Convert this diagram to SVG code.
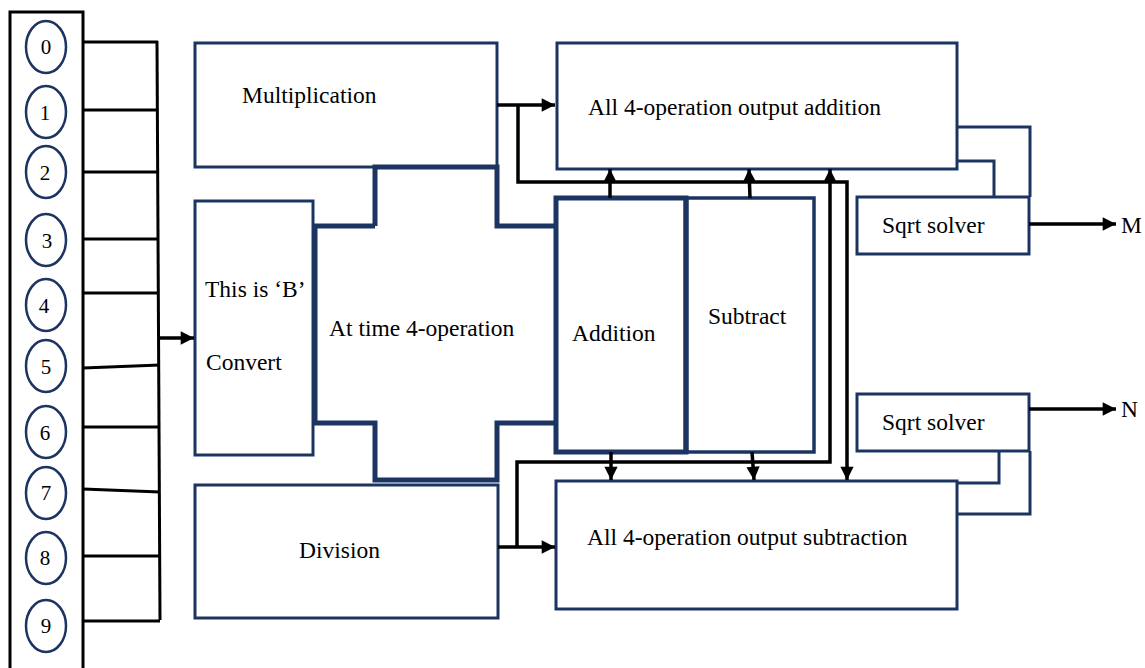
<svg xmlns="http://www.w3.org/2000/svg" width="1145" height="668" viewBox="0 0 1145 668">
<style>
text{font-family:'Liberation Serif','DejaVu Serif',serif;fill:#000;}
.lbl{font-size:23.5px;}
.dig{font-size:21px;text-anchor:middle;}
.box{fill:#fff;stroke:#1c3461;stroke-width:3;}
.thick{fill:none;stroke:#1c3461;stroke-width:5;}
.nv{fill:none;stroke:#1c3461;stroke-width:3;}
.ov{fill:#fff;stroke:#1c3461;stroke-width:2.5;}
.wire{fill:none;stroke:#000;stroke-width:3.5;}
.thin{fill:none;stroke:#000;stroke-width:3;}
</style>
<defs>
<marker id="ah" viewBox="0 0 10 10" refX="10" refY="5" markerWidth="4.2" markerHeight="3.8" orient="auto" markerUnits="strokeWidth">
<path d="M0,0 L10,5 L0,10 Z" fill="#000"/>
</marker>
</defs>
<rect width="1145" height="668" fill="#fff"/>

<g id="inputs">
<rect x="10" y="12" width="73" height="690" fill="#fff" stroke="#000" stroke-width="3"/>
<ellipse class="ov" cx="46" cy="47" rx="20" ry="26"/><text class="dig" x="46" y="54">0</text>
<ellipse class="ov" cx="46" cy="112" rx="20" ry="26"/><text class="dig" x="45" y="120">1</text>
<ellipse class="ov" cx="46" cy="172" rx="20" ry="26"/><text class="dig" x="45" y="180">2</text>
<ellipse class="ov" cx="46" cy="240" rx="20" ry="26"/><text class="dig" x="47" y="248">3</text>
<ellipse class="ov" cx="46" cy="305" rx="20" ry="26"/><text class="dig" x="44" y="313">4</text>
<ellipse class="ov" cx="46" cy="366" rx="20" ry="26"/><text class="dig" x="46" y="374">5</text>
<ellipse class="ov" cx="46" cy="432" rx="20" ry="26"/><text class="dig" x="45" y="440">6</text>
<ellipse class="ov" cx="46" cy="493" rx="20" ry="26"/><text class="dig" x="46" y="500">7</text>
<ellipse class="ov" cx="46" cy="558" rx="20" ry="26"/><text class="dig" x="45" y="565">8</text>
<ellipse class="ov" cx="46" cy="626" rx="20" ry="26"/><text class="dig" x="46" y="633">9</text>
</g>

<g id="bus">
<path class="thin" d="M83,42 L158,42 M83,110 L158,110 M83,172 L158,172 M83,239 L158,239 M83,293 L158,293 M83,368 L160,365 M83,427 L160,427 M83,489 L160,492 M83,556 L161,556 M83,621 L160,621"/>
<path class="thin" d="M157,41 L160,620"/>
</g>

<g id="multiplication">
<rect class="box" x="195" y="43" width="302" height="124"/>
<text class="lbl" x="242" y="103">Multiplication</text>
</g>

<g id="convert">
<rect class="box" x="195" y="201" width="118" height="254"/>
<text class="lbl" x="205" y="297">This is ‘B’</text>
<text class="lbl" x="206" y="370">Convert</text>
</g>

<g id="division">
<rect class="box" x="195" y="485" width="303" height="133"/>
<text class="lbl" x="299" y="558">Division</text>
</g>

<g id="at-time">
<path class="thick" d="M375,226 L375,167 L497,167 L497,226 L556,226 M556,423 L497,423 L497,480 L375,480 L375,423 L315,423 L315,226 L375,226"/>
<text class="lbl" x="329" y="336">At time 4-operation</text>
</g>

<g id="addition">
<rect class="thick" x="556" y="198" width="130" height="254"/>
<text class="lbl" x="572" y="341">Addition</text>
</g>

<g id="subtract">
<rect class="nv" x="686" y="198" width="128" height="254" style="stroke-width:3.5"/>
<line x1="686" y1="198" x2="686" y2="452" stroke="#1c3461" stroke-width="5"/>
<text class="lbl" x="708" y="324">Subtract</text>
</g>

<g id="output-addition">
<rect class="box" x="557" y="43" width="400" height="126"/>
<text class="lbl" x="588" y="115">All 4-operation output addition</text>
</g>

<g id="output-subtraction">
<rect class="box" x="556" y="481" width="401" height="128"/>
<text class="lbl" x="587" y="545">All 4-operation output subtraction</text>
</g>

<g id="sqrt-m">
<rect class="box" x="857" y="197" width="172" height="57"/>
<text class="lbl" x="882" y="233">Sqrt solver</text>
</g>

<g id="sqrt-n">
<rect class="box" x="857" y="394" width="172" height="57"/>
<text class="lbl" x="882" y="430">Sqrt solver</text>
</g>

<g id="out-m"><text class="lbl" x="1121" y="233">M</text></g>
<g id="out-n"><text class="lbl" x="1121" y="417">N</text></g>

<g id="connectors">
<path class="nv" d="M957,127 L1030,127 L1030,197 M957,161 L994,161 L994,197"/>
<path class="nv" d="M1030,451 L1030,514 L957,514 M999,451 L999,483 L957,483"/>
<path class="wire" d="M160,338 L194,338" marker-end="url(#ah)"/>
<path class="wire" d="M497,105 L555,105" marker-end="url(#ah)"/>
<path class="wire" d="M518,105 L518,182 L847,182 L847,480" marker-end="url(#ah)"/>
<path class="wire" d="M498,547 L555,547" marker-end="url(#ah)"/>
<path class="wire" d="M517,547 L517,462 L830,462 L830,169" marker-end="url(#ah)"/>
<path class="wire" d="M610,198 L610,169" marker-end="url(#ah)"/>
<path class="wire" d="M750,198 L749,169" marker-end="url(#ah)"/>
<path class="wire" d="M611,452 L611,480" marker-end="url(#ah)"/>
<path class="wire" d="M752,452 L754,480" marker-end="url(#ah)"/>
<path class="wire" d="M1029,224 L1116,224" marker-end="url(#ah)"/>
<path class="wire" d="M1029,409 L1116,409" marker-end="url(#ah)"/>
</g>
</svg>
